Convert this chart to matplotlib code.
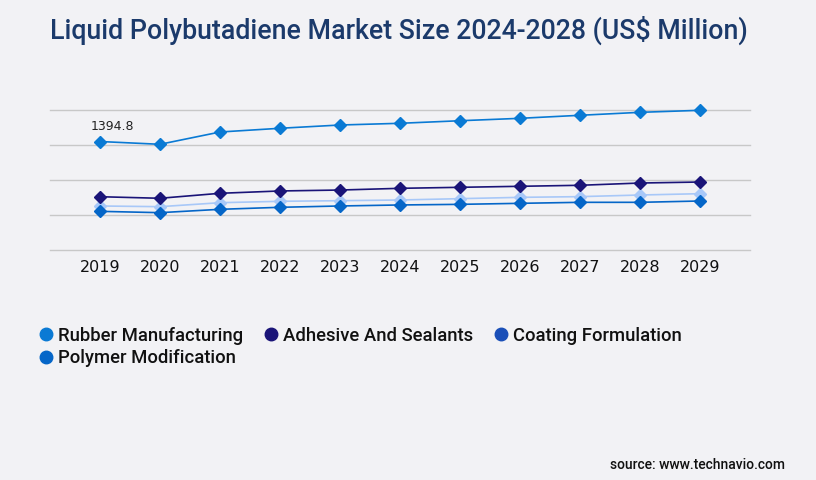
import matplotlib
matplotlib.use("Agg")
import matplotlib.pyplot as plt
from matplotlib.lines import Line2D

years = [2019, 2020, 2021, 2022, 2023, 2024, 2025, 2026, 2027, 2028, 2029]
rubber = [1394.8, 1359, 1517, 1565, 1607, 1629, 1662, 1693, 1732, 1770, 1796]
adhesive = [685, 665, 729, 759, 771, 793, 806, 819, 832, 861, 874]
coating = [566, 557, 608, 626, 634, 643, 660, 677, 686, 707, 724]
polymer = [497, 480, 523, 549, 566, 579, 587, 600, 613, 613, 630]

series_names = ["Rubber Manufacturing", "Adhesive And Sealants",
                "Coating Formulation", "Polymer Modification"]
line_colors = ["#0a7ad4", "#1a1478", "#a8c8f8", "#0566c8"]
legend_colors = ["#0a7ad4", "#1a1478", "#1a4fb8", "#0566c8"]
grid_values = [0, 450, 900, 1350, 1800]

bg = "#f2f2f5"
plt.rcParams["font.family"] = ["Roboto", "DejaVu Sans"]

fig = plt.figure(figsize=(8.16, 4.8), dpi=100, facecolor=bg)
ax = fig.add_axes([50 / 816, 230 / 480, 700 / 816, 140 / 480], facecolor=bg)

# lower series first so the upper ones sit on top, as in the reference
for vals, col in [(coating, line_colors[2]), (polymer, line_colors[3]),
                  (adhesive, line_colors[1]), (rubber, line_colors[0])]:
    ax.plot(years, vals, color=col, lw=1.2, marker="D", ms=6.5,
            clip_on=False, zorder=3)

ax.set_xlim(2018 + 10 / 60, 2029 + 50 / 60)
ax.set_ylim(0, 1800)
for g in grid_values:
    ax.axhline(g, color="#c8c8c8", lw=1, zorder=1, clip_on=False)

for s in ax.spines.values():
    s.set_visible(False)
ax.set_yticks([])
ax.set_xticks(years)
ax.set_xticklabels([str(y) for y in years], fontsize=11.5, color="#111111",
                   family=["DejaVu Sans"])
ax.tick_params(axis="x", length=0, pad=7)

ax.annotate(f"{rubber[0]}", (years[0], rubber[0]), xytext=(9, 6),
            textcoords="offset points", ha="center", va="bottom",
            fontsize=9, color="#222222", family=["DejaVu Sans"])

fig.text(399 / 816, 1 - 30 / 480, "Liquid Polybutadiene Market Size 2024-2028 (US$ Million)",
         ha="center", va="center", fontsize=19.3, fontweight="medium",
         color="#1b3a6b")

# matplotlib fills legend columns first; reorder so rows read like the reference
order = [0, 3, 1, 2]
handles = [Line2D([], [], ls="none", marker="o", ms=9, color=legend_colors[i]) for i in order]
labels = [series_names[i] for i in order]
leg = fig.legend(handles, labels, loc="upper left",
                 bbox_to_anchor=(20 / 816, 1 - 310 / 480), ncol=3,
                 frameon=False, fontsize=13.3, handletextpad=0.15,
                 columnspacing=1.0, handlelength=1.0, labelspacing=0.25)
for t in leg.get_texts():
    t.set_fontweight("medium")
    t.set_color("#111111")

fig.text(785 / 816, 1 - 465 / 480, "source: www.technavio.com", ha="right",
         va="center", fontsize=10, fontweight="medium", color="#111111")

fig.savefig("out.png", dpi=100, facecolor=bg)
